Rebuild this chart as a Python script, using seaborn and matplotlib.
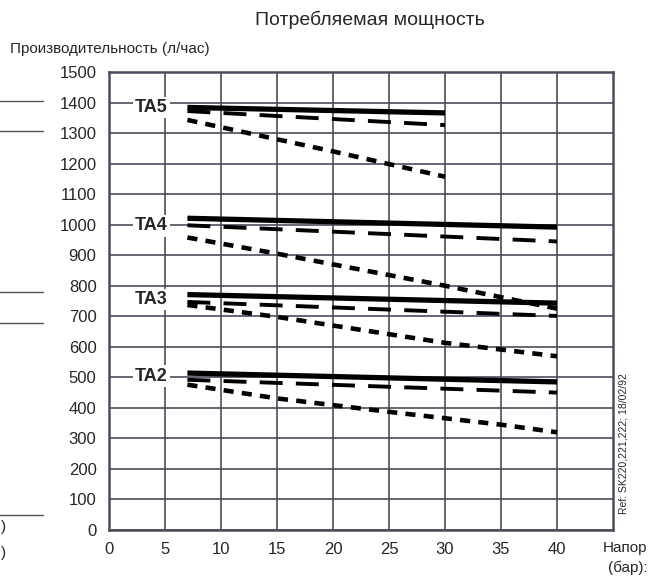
import pandas as pd
import matplotlib.pyplot as plt
import seaborn as sns
from matplotlib.lines import Line2D

# ---------------------------
# Data (pressure in bar, capacity in l/h)
models = ['TA5', 'TA4', 'TA3', 'TA2']

# solid / long dash: straight lines, endpoints only
p_ta5 = [7, 30]
p_other = [7, 40]
ta5_solid = [1384, 1366]
ta5_long = [1372, 1326]
ta4_solid = [1021, 992]
ta4_long = [998, 945]
ta3_solid = [771, 743]
ta3_long = [747, 701]
ta2_solid = [514, 485]
ta2_long = [492, 450]

# short dash: slightly bent, a few read points
ta5_short_p = [7, 20, 30]
ta5_short = [1343, 1240, 1157]
ta4_short_p = [7, 15, 30, 40]
ta4_short = [958, 905, 800, 725]
ta3_short_p = [7, 15, 30, 40]
ta3_short = [737, 698, 613, 569]
ta2_short_p = [7, 15, 25, 35, 40]
ta2_short = [476, 431, 387, 345, 320]

label_y = [1384, 996, 755, 504]

x_ticks = list(range(0, 41, 5))
y_ticks = list(range(0, 1501, 100))

series = [
    ('TA5', 'solid', p_ta5, ta5_solid), ('TA5', 'long', p_ta5, ta5_long),
    ('TA5', 'short', ta5_short_p, ta5_short),
    ('TA4', 'solid', p_other, ta4_solid), ('TA4', 'long', p_other, ta4_long),
    ('TA4', 'short', ta4_short_p, ta4_short),
    ('TA3', 'solid', p_other, ta3_solid), ('TA3', 'long', p_other, ta3_long),
    ('TA3', 'short', ta3_short_p, ta3_short),
    ('TA2', 'solid', p_other, ta2_solid), ('TA2', 'long', p_other, ta2_long),
    ('TA2', 'short', ta2_short_p, ta2_short),
]
rows = []
for model, curve, xs, ys in series:
    for xv, yv in zip(xs, ys):
        rows.append({'model': model, 'curve': curve, 'p': xv, 'q': yv})
df = pd.DataFrame(rows)

# ---------------------------
sns.set_style('white')
plt.rcParams['font.family'] = ['Liberation Sans', 'DejaVu Sans']

grid_col = '#4e4c5c'
fig = plt.figure(figsize=(6.56, 5.78), dpi=100)
ax = fig.add_axes([109/656, 48/578, 504/656, 458/578])

sns.lineplot(data=df, x='p', y='q', units='model', estimator=None,
             style='curve', size='curve',
             dashes={'solid': '', 'long': (5.9, 3.4), 'short': (2.2, 1.8)},
             sizes={'solid': 3.8, 'long': 2.8, 'short': 3.3},
             color='black', legend=False, ax=ax, zorder=3)
for line in ax.lines:
    line.set_dash_capstyle('butt')
    line.set_solid_capstyle('butt')

for m, yv in zip(models, label_y):
    ax.text(3.8, yv, m, ha='center', va='center', fontsize=13, fontweight='bold',
            zorder=4, bbox=dict(fc='white', ec='none', pad=1.5))

ax.set_xlim(0, 45)
ax.set_ylim(0, 1500)
ax.set_xticks(x_ticks)
ax.set_yticks(y_ticks)
ax.grid(True, color=grid_col, lw=1.2)
ax.set_axisbelow(True)
ax.tick_params(length=0, labelsize=12, pad=9)
ax.set_xlabel('')
ax.set_ylabel('')
for s in ax.spines.values():
    s.set_color(grid_col)
    s.set_linewidth(1.8)

# texts around the frame
fig.text(370/656, 1 - 20/578, 'Потребляемая мощность', ha='center', va='center',
         fontsize=14)
fig.text(10/656, 1 - 49/578, 'Производительность (л/час)', ha='left', va='center',
         fontsize=11)
fig.text(603/656, 1 - 548/578, 'Напор', ha='left', va='center', fontsize=11)
fig.text(608/656, 1 - 568/578, '(бар):', ha='left', va='center', fontsize=11)
fig.text(623/656, 1 - 444/578, 'Ref: SK220,221,222; 18/02/92', rotation=90,
         ha='center', va='center', fontsize=7.5)

# pieces of the neighbouring page left in the scan
for yp in [101, 131, 292, 323, 515]:
    fig.add_artist(Line2D([0, 43/656], [1 - yp/578] * 2, color='#555555', lw=1))
fig.text(1/656, 1 - 527/578, ')', ha='left', va='center', fontsize=11)
fig.text(1/656, 1 - 553/578, ')', ha='left', va='center', fontsize=11)

fig.savefig('out.png', dpi=100)
